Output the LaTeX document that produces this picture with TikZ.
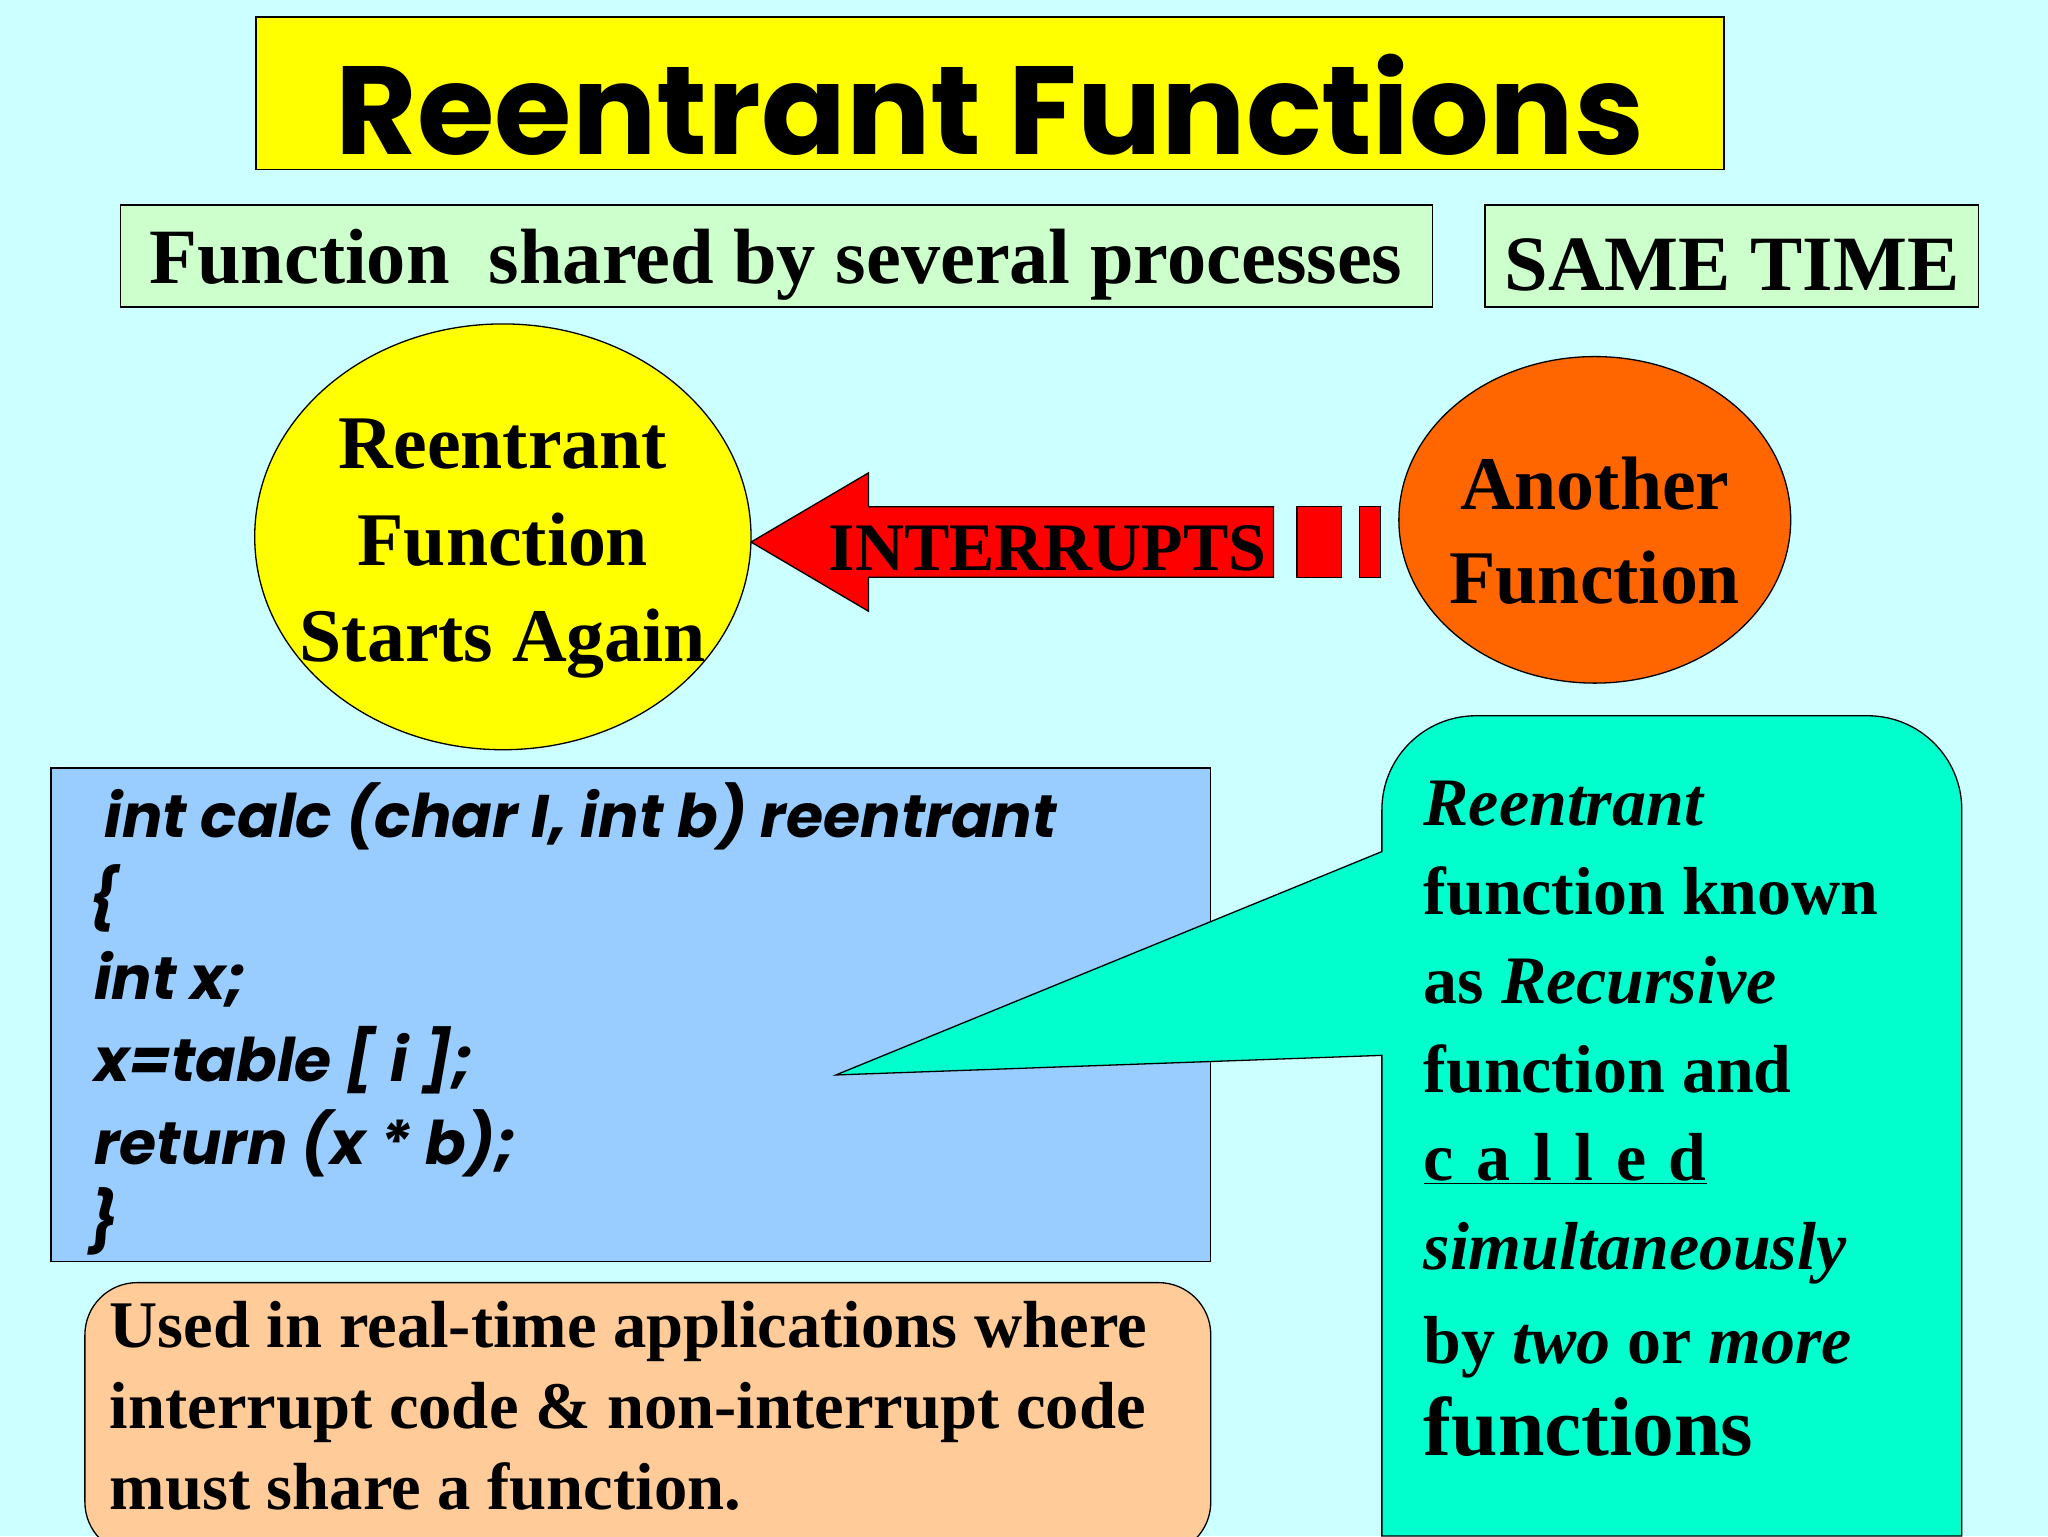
\documentclass[tikz,border=0pt]{standalone}
\usepackage{fontspec}
\setmainfont{Liberation Serif}
\newfontfamily\comic{Poppins}
\usetikzlibrary{shapes.geometric}
\definecolor{cbg}{RGB}{204,255,255}
\definecolor{cgreen}{RGB}{204,255,204}
\definecolor{cyel}{RGB}{255,255,0}
\definecolor{corange}{RGB}{255,102,0}
\definecolor{cblue}{RGB}{153,204,255}
\definecolor{cpeach}{RGB}{255,204,153}
\definecolor{caqua}{RGB}{0,255,204}
\definecolor{cred}{RGB}{255,0,0}
\tikzset{
  box/.style={draw=black,line width=1pt},
  big/.style={font=\fontsize{60}{70}\selectfont\bfseries},
  code/.style={font=\comic\fontsize{46}{62}\selectfont\bfseries\itshape,anchor=west}
}
\begin{document}
\begin{tikzpicture}[x=1pt,y=-1pt,inner sep=0pt,outer sep=0pt]
% background
\path[fill=cbg] (0,0) rectangle (1568,1176);
\useasboundingbox (0,0) rectangle (1568,1176);

% title
\path[box,fill=cyel] (196,13) rectangle (1320,130);
\node[font=\comic\fontsize{96}{110}\selectfont\bfseries] (title) at (758,80) {Reentrant Functions};

% header boxes
\path[box,fill=cgreen] (92,157) rectangle (1097,235);
\node[big] (shared) at (594,203) {Function\ \ shared by several processes};
\path[box,fill=cgreen] (1137,157) rectangle (1515,235);
\node[big] (same) at (1326,203) {SAME TIME};

% ellipses
\node[ellipse,box,fill=cyel,minimum width=380,minimum height=326] (reent) at (385,411) {};
\node[align=center,font=\fontsize{58}{74}\selectfont\bfseries] (reenttext) at (385,420) {Reentrant\\Function\\Starts Again};
\node[ellipse,box,fill=corange,minimum width=300,minimum height=250] (another) at (1221,398) {};
\node[align=center,font=\fontsize{58}{72}\selectfont\bfseries] (anothertext) at (1221,406) {Another\\Function};

% interrupt arrow
\path[box,fill=cred] (575,415) -- (665,362) -- (665,388) -- (975,388) -- (975,442)
  -- (665,442) -- (665,468) -- cycle;
\path[box,fill=cred] (993,388) rectangle (1027,442);
\path[box,fill=cred] (1041,388) rectangle (1057,442);
\node[font=\fontsize{52}{60}\selectfont\bfseries] (interrupts) at (802,420) {INTERRUPTS};

% code box
\path[box,fill=cblue] (39,588) rectangle (927,966);
\node[code] (l1) at (80,625) {int calc (char I, int b) reentrant};
\node[code] (l2) at (68,688) {\{};
\node[code] (l3) at (72,750) {int x;};
\node[code] (l4) at (72,812) {x=table [ i ];};
\node[code] (l5) at (72,875) {return (x * b);};
\node[code] (l6) at (68,935) {\}};

% usage box
\path[box,fill=cpeach,rounded corners=40] (65,982) rectangle (927,1190);
\node[anchor=north west,align=left,font=\fontsize{51}{62}\selectfont\bfseries] (usage) at (84,996)
  {Used in real-time applications where\\interrupt code \& non-interrupt code\\must share a function.};

% callout
\path[box,fill=caqua] (1058,652) -- (1058,620) arc(180:270:72) -- (1430,548)
  arc(270:360:72) -- (1502,1176) -- (1058,1176) -- (1058,808) -- (640,823) -- cycle;
\node[anchor=north west,align=left,font=\fontsize{52}{68}\selectfont\bfseries] (callout) at (1090,598)
  {\textit{Reentrant}\\function known\\as \textit{Recursive}\\function and\\
   \underline{c\,\,a\,\,l\,\,l\,\,e\,\,d}\\\textit{simultaneously}\\[4pt]by \textit{two} or \textit{more}\\[2pt]
   {\fontsize{64}{68}\selectfont functions}};
\end{tikzpicture}
\end{document}
